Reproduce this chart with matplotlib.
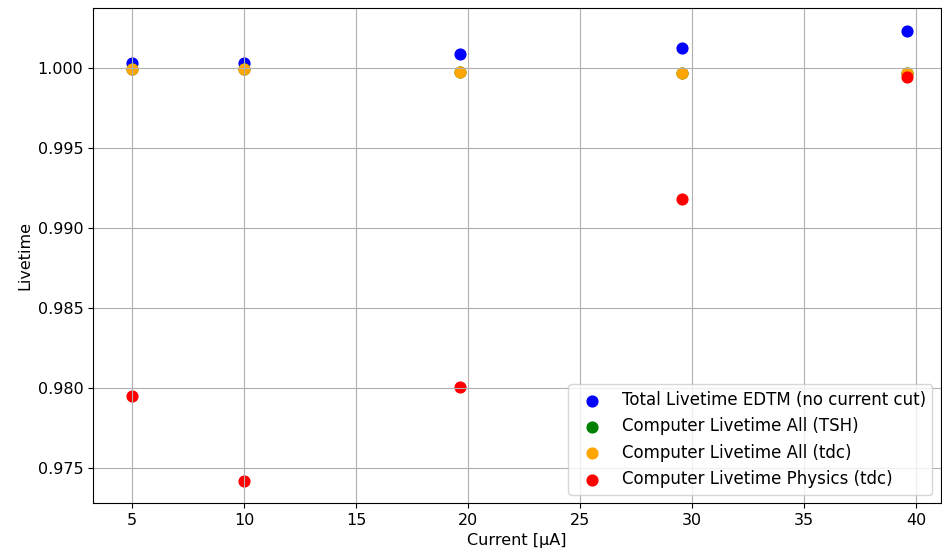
import matplotlib
matplotlib.use("Agg")
import matplotlib.pyplot as plt

current = [5, 10, 19.65, 29.55, 39.6]

edtm_total = [1.0003, 1.0003, 1.00088, 1.00125, 1.0023]
comp_all_tsh = [0.99994, 0.99994, 0.99975, 0.99969, 0.9997]
comp_all_tdc = [0.99994, 0.99994, 0.99975, 0.99969, 0.9997]
comp_phys_tdc = [0.9795, 0.97419, 0.98006, 0.99181, 0.99944]

fig = plt.figure(figsize=(9.42, 5.55), dpi=100)
ax = fig.add_axes([0.0987, 0.0937, 0.9, 0.8919])

ax.scatter(current, edtm_total, color="blue", s=60, label="Total Livetime EDTM (no current cut)")
ax.scatter(current, comp_all_tsh, color="green", s=60, label="Computer Livetime All (TSH)")
ax.scatter(current, comp_all_tdc, color="orange", s=60, label="Computer Livetime All (tdc)")
ax.scatter(current, comp_phys_tdc, color="red", s=60, label="Computer Livetime Physics (tdc)")

ax.set_xlim(3.26, 41.1)
ax.set_ylim(0.97281, 1.00375)
ax.set_xticks([5, 10, 15, 20, 25, 30, 35, 40])
ax.set_yticks([0.975, 0.980, 0.985, 0.990, 0.995, 1.000])
ax.tick_params(labelsize=11.5)

ax.set_xlabel("Current [µA]", fontsize=11.5)
ax.set_ylabel("Livetime", fontsize=11.5)

ax.grid(True)
ax.legend(loc="lower right", fontsize=12)

fig.savefig("out.png", dpi=100)
